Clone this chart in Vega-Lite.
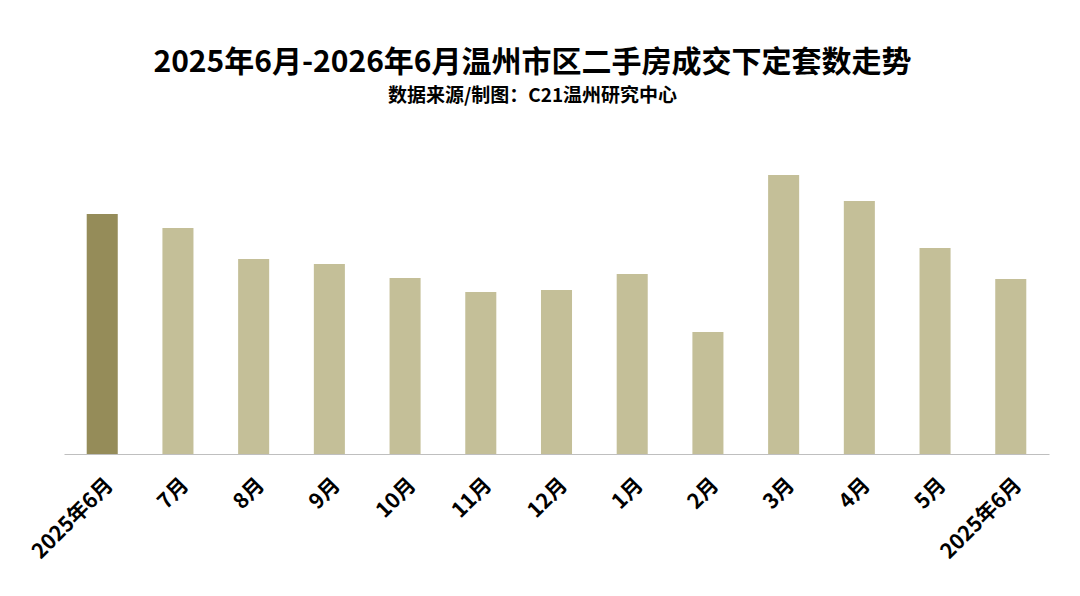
{
  "$schema": "https://vega.github.io/schema/vega-lite/v6.json",
  "autosize": "none",
  "width": 985,
  "height": 314,
  "padding": {"left": 64, "top": 140, "right": 31, "bottom": 142},
  "background": "white",
  "title": {
    "text": "2025年6月-2026年6月温州市区二手房成交下定套数走势",
    "subtitle": "数据来源/制图：C21温州研究中心",
    "anchor": "middle",
    "frame": "group",
    "dx": -24,
    "offset": 34,
    "font": "Noto Sans CJK SC",
    "fontSize": 30,
    "fontWeight": "bold",
    "color": "#000000",
    "subtitleFont": "Noto Sans CJK SC",
    "subtitleFontSize": 19,
    "subtitleFontWeight": "bold",
    "subtitleColor": "#000000",
    "subtitlePadding": 9
  },
  "data": {
    "values": [
      {"月份": "2025年6月", "套数": 240, "类型": "基期"},
      {"月份": "7月", "套数": 226, "类型": "其他"},
      {"月份": "8月", "套数": 195, "类型": "其他"},
      {"月份": "9月", "套数": 190, "类型": "其他"},
      {"月份": "10月", "套数": 176, "类型": "其他"},
      {"月份": "11月", "套数": 162, "类型": "其他"},
      {"月份": "12月", "套数": 164, "类型": "其他"},
      {"月份": "1月", "套数": 180, "类型": "其他"},
      {"月份": "2月", "套数": 122, "类型": "其他"},
      {"月份": "3月", "套数": 279, "类型": "其他"},
      {"月份": "4月", "套数": 253, "类型": "其他"},
      {"月份": "5月", "套数": 206, "类型": "其他"},
      {"月份": "2025年6月 ", "套数": 175, "类型": "其他"}
    ]
  },
  "mark": {"type": "bar"},
  "encoding": {
    "x": {
      "field": "月份",
      "type": "nominal",
      "sort": null,
      "scale": {"paddingInner": 0.59, "paddingOuter": 0.3},
      "axis": {
        "title": null,
        "labelAngle": -45,
        "labelFont": "Noto Sans CJK SC",
        "labelFontSize": 21,
        "labelFontWeight": "bold",
        "labelColor": "#000000",
        "labelPadding": 20,
        "ticks": false,
        "domainColor": "#bfbfbf",
        "domainWidth": 1.2,
        "grid": false
      }
    },
    "y": {
      "field": "套数",
      "type": "quantitative",
      "scale": {"domain": [0, 314], "nice": false},
      "axis": null
    },
    "color": {
      "field": "类型",
      "type": "nominal",
      "scale": {"domain": ["基期", "其他"], "range": ["#958c59", "#c4bf98"]},
      "legend": null
    }
  },
  "config": {"view": {"stroke": null}}
}
